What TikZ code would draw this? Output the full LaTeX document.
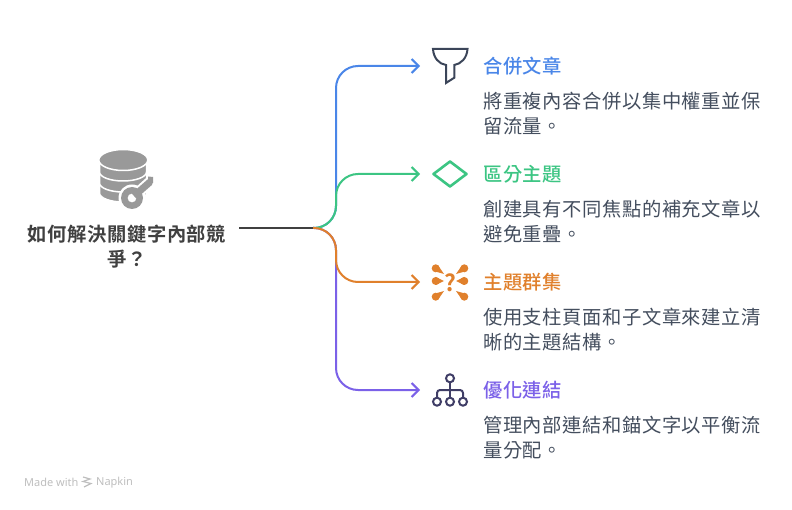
\documentclass[tikz,border=0pt]{standalone}
\usepackage{fontspec}
\usepackage{xcolor}
\usetikzlibrary{positioning,arrows.meta}
\setmainfont{Noto Sans CJK TC}[LetterSpace=3,BoldFont={Noto Sans CJK TC Medium}]
\newfontfamily\questionfont{Noto Sans CJK TC Bold}[LetterSpace=3]
\newfontfamily\markfont{Noto Sans}
\definecolor{mergeblue}{RGB}{74,134,232}
\definecolor{splitgreen}{RGB}{60,197,131}
\definecolor{clusterorange}{RGB}{224,128,44}
\definecolor{linkpurple}{RGB}{123,97,232}
\definecolor{trunkgray}{RGB}{64,64,64}
\definecolor{inkgray}{RGB}{59,69,89}
\definecolor{bodyink}{RGB}{68,78,94}
\definecolor{treeink}{RGB}{63,61,102}
\definecolor{iconset}{RGB}{153,153,153}
\definecolor{marktext}{RGB}{190,190,190}

\begin{document}
\begin{tikzpicture}[x=1pt,y=-1pt,
    heading/.style={anchor=west, inner sep=0pt, font=\fontsize{19.3}{19.3}\selectfont\bfseries},
    body/.style={anchor=north west, inner sep=0pt, align=left, text=bodyink, font=\fontsize{19.3}{25}\selectfont},
    branch/.style={line width=2pt, rounded corners=22pt, -{Straight Barb[length=7pt,width=14pt,line width=2pt]}},
    band/.style={fill=iconset, draw=white, line width=1.5pt},
    blob/.style={fill=clusterorange, draw=none}]
    \useasboundingbox (0,0) rectangle (792,510);

    % Main question
    \node[anchor=center, inner sep=0pt, align=center, text=trunkgray,
          font=\questionfont\fontsize{19.3}{25}\selectfont] (question) at (127,247) {如何解決關鍵字內部競\\爭？};

    % Connector points
    \coordinate (start) at (239,228);
    \coordinate (hub) at (313,228);
    \coordinate (spine) at (336,228);
    \coordinate (mergetip) at (420,66);
    \coordinate (splittip) at (420,174);
    \coordinate (clustertip) at (420,282);
    \coordinate (linktip) at (420,390);

    % Headings
    \node[heading, text=mergeblue] (mergehead) at (483,66.5) {合併文章};
    \node[heading, text=splitgreen] (splithead) at (483,174.5) {區分主題};
    \node[heading, text=clusterorange] (clusterhead) at (483,282.5) {主題群集};
    \node[heading, text=linkpurple] (linkhead) at (483,390.5) {優化連結};

    % Descriptions
    \node[body] (mergebody) at (483,92) {將重複內容合併以集中權重並保\\留流量。};
    \node[body] (splitbody) at (483,200) {創建具有不同焦點的補充文章以\\避免重疊。};
    \node[body] (clusterbody) at (483,308) {使用支柱頁面和子文章來建立清\\晰的主題結構。};
    \node[body] (linkbody) at (483,416) {管理內部連結和錨文字以平衡流\\量分配。};

    % Connections
    \draw[branch, mergeblue] (hub) -- (spine) -- (spine |- mergetip) -- (mergetip);
    \draw[branch, linkpurple] (hub) -- (spine) -- (spine |- linktip) -- (linktip);
    \draw[branch, splitgreen] (hub) -- (spine) -- (spine |- splittip) -- (splittip);
    \draw[branch, clusterorange] (hub) -- (spine) -- (spine |- clustertip) -- (clustertip);
    \draw[line width=2pt, trunkgray] (start) -- (hub);

    % Database icon
    \path[band] (99.5,180) -- (99.5,193) arc[start angle=180, end angle=360, x radius=23.5pt, y radius=9pt] -- (146.5,180) -- cycle;
    \path[band] (99.5,170) -- (99.5,183) arc[start angle=180, end angle=360, x radius=23.5pt, y radius=9pt] -- (146.5,170) -- cycle;
    \path[band] (99.5,160) -- (99.5,172) arc[start angle=180, end angle=360, x radius=23.5pt, y radius=9pt] -- (146.5,160) -- cycle;
    \path[band] (123.3,160) ellipse[x radius=24.5pt, y radius=10.5pt];
    % key
    \draw[white, line width=11pt] (132,198) -- (151,181);
    \fill[white] (132,198) circle[radius=13.5pt];
    \draw[iconset, line width=7pt] (134,196) -- (150,182);
    \fill[iconset] (148,176.5) -- (153,177) -- (153,183) -- (148,187) -- cycle;
    \fill[iconset, even odd rule] (132,198) circle[radius=11pt] (132,198) circle[radius=4.5pt];

    % Funnel icon
    \draw[inkgray, line width=2pt, line join=miter] (433,49) -- (467.5,49) .. controls (467,58) and (461,64) .. (454.3,65) -- (454.3,77.7) -- (446,83) -- (446,65) .. controls (439,64) and (433.5,58) .. (433,49) -- cycle;

    % Diamond icon
    \draw[splitgreen, line width=2.6pt, line join=round] (450,161.5) -- (466.5,174) -- (450,186.5) -- (433.5,174) -- cycle;

    % Cluster icon
    \node[text=clusterorange, inner sep=0pt, font=\questionfont\fontsize{23}{23}\selectfont] (clustermark) at (450,283) {?};
    \fill[blob] (435.7,268.3) circle[radius=4pt];
    \fill[blob] (433.5,271) -- (438.5,266) -- (444,274) -- cycle;
    \fill[blob] (464.3,268.3) circle[radius=4pt];
    \fill[blob] (466.5,271) -- (461.5,266) -- (456,274) -- cycle;
    \fill[blob] (435.7,281) circle[radius=4pt];
    \fill[blob] (435.7,277) -- (435.7,285) -- (444,281) -- cycle;
    \fill[blob] (464.3,281) circle[radius=4pt];
    \fill[blob] (464.3,277) -- (464.3,285) -- (456,281) -- cycle;
    \fill[blob] (435.7,296.7) circle[radius=4pt];
    \fill[blob] (433.5,294) -- (438.5,299) -- (444,291) -- cycle;
    \fill[blob] (464.3,296.7) circle[radius=4pt];
    \fill[blob] (466.5,294) -- (461.5,299) -- (456,291) -- cycle;

    % Tree icon
    \draw[treeink, line width=2pt] (450,382.5) -- (450,397.5);
    \draw[treeink, line width=2pt, rounded corners=3pt] (437,397.5) -- (437,390) -- (463,390) -- (463,397.5);
    \draw[treeink, line width=2pt] (450,378.3) circle[radius=4pt];
    \draw[treeink, line width=2pt] (437,401.7) circle[radius=4pt];
    \draw[treeink, line width=2pt] (450,401.7) circle[radius=4pt];
    \draw[treeink, line width=2pt] (463,401.7) circle[radius=4pt];

    % Watermark
    \node[anchor=west, inner sep=0pt, text=marktext, font=\markfont\fontsize{11}{11}\selectfont] (madewith) at (24,482.5) {Made with};
    \node[anchor=west, inner sep=0pt, text=marktext, font=\markfont\fontsize{11}{11}\selectfont] (napkin) at (96,482.5) {Napkin};
    \draw[marktext, line width=1.2pt] (83,477) -- (90,479) -- (83,481.5) -- (91,483.5) -- (84,487);
\end{tikzpicture}
\end{document}
